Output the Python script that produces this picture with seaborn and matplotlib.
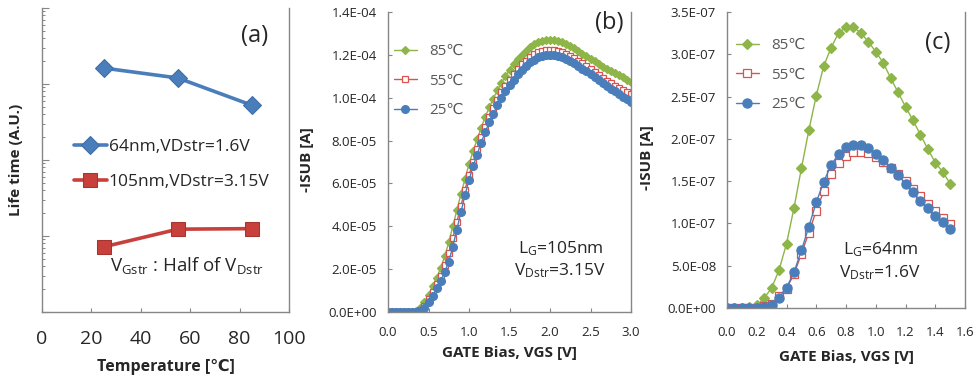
import numpy as np
import pandas as pd
import matplotlib
matplotlib.use("Agg")
import matplotlib.pyplot as plt
from matplotlib.ticker import FuncFormatter, MultipleLocator, LogLocator, NullFormatter
import seaborn as sns

# ---------------- data ----------------
# panel (a)
temp_a = [25, 55, 85]
life_64nm = [1620, 1200, 525]
life_105nm = [7.2, 12.3, 12.5]
label_a = ["64nm,VDstr=1.6V", "105nm,VDstr=3.15V"]

# panel (b)  (values in units of 1e-5 A)
vgs_b = [0.00, 0.05, 0.10, 0.15, 0.20, 0.25, 0.30, 0.35, 0.40, 0.45,
         0.50, 0.55, 0.60, 0.65, 0.70, 0.75, 0.80, 0.85, 0.90, 0.95,
         1.00, 1.05, 1.10, 1.15, 1.20, 1.25, 1.30, 1.35, 1.40, 1.45,
         1.50, 1.55, 1.60, 1.65, 1.70, 1.75, 1.80, 1.85, 1.90, 1.95,
         2.00, 2.05, 2.10, 2.15, 2.20, 2.25, 2.30, 2.35, 2.40, 2.45,
         2.50, 2.55, 2.60, 2.65, 2.70, 2.75, 2.80, 2.85, 2.90, 2.95, 3.00]
isub_b_85 = [0, 0, 0, 0, 0, 0.01, 0.02, 0.06, 0.20, 0.45,
             0.80, 1.20, 1.60, 2.05, 2.60, 3.25, 4.00, 4.75, 5.50, 6.20,
             6.90, 7.50, 8.05, 8.60, 9.10, 9.55, 9.95, 10.35, 10.70, 11.00,
             11.30, 11.55, 11.80, 12.00, 12.20, 12.35, 12.50, 12.60, 12.65, 12.70,
             12.70, 12.70, 12.65, 12.60, 12.50, 12.40, 12.30, 12.20, 12.05, 11.95,
             11.80, 11.70, 11.55, 11.45, 11.35, 11.25, 11.15, 11.05, 10.95, 10.85, 10.75]
isub_b_55 = [0, 0, 0, 0, 0, 0, 0, 0.02, 0.10, 0.30,
             0.60, 0.95, 1.30, 1.70, 2.20, 2.75, 3.45, 4.20, 4.95, 5.70,
             6.40, 7.00, 7.60, 8.15, 8.65, 9.10, 9.50, 9.90, 10.25, 10.55,
             10.85, 11.10, 11.35, 11.55, 11.72, 11.88, 12.02, 12.12, 12.18, 12.22,
             12.24, 12.22, 12.18, 12.12, 12.04, 11.95, 11.84, 11.72, 11.60, 11.46,
             11.32, 11.18, 11.05, 10.92, 10.80, 10.68, 10.56, 10.45, 10.35, 10.25, 10.15]
isub_b_25 = [0, 0, 0, 0, 0, 0, 0, 0, 0.05, 0.20,
             0.45, 0.75, 1.10, 1.45, 1.85, 2.35, 3.05, 3.85, 4.65, 5.45,
             6.15, 6.80, 7.35, 7.90, 8.40, 8.85, 9.25, 9.65, 10.00, 10.30,
             10.60, 10.85, 11.10, 11.30, 11.50, 11.65, 11.78, 11.88, 11.94, 11.98,
             12.00, 11.98, 11.94, 11.88, 11.80, 11.70, 11.60, 11.48, 11.35, 11.23,
             11.10, 10.96, 10.83, 10.70, 10.56, 10.43, 10.30, 10.16, 10.03, 9.92, 9.80]

# panel (c)  (values in units of 1e-7 A)
vgs_c = [0.00, 0.05, 0.10, 0.15, 0.20, 0.25, 0.30, 0.35, 0.40, 0.45,
         0.50, 0.55, 0.60, 0.65, 0.70, 0.75, 0.80, 0.85, 0.90, 0.95,
         1.00, 1.05, 1.10, 1.15, 1.20, 1.25, 1.30, 1.35, 1.40, 1.45, 1.50]
isub_c_85 = [0, 0, 0, 0.01, 0.03, 0.12, 0.235, 0.45, 0.76, 1.18,
             1.65, 2.10, 2.51, 2.86, 3.08, 3.25, 3.32, 3.32, 3.25, 3.15,
             3.03, 2.90, 2.72, 2.55, 2.38, 2.22, 2.05, 1.88, 1.72, 1.61, 1.47]
isub_c_55 = [0, 0, 0, 0, 0, 0.02, 0.05, 0.14, 0.23, 0.40,
             0.64, 0.89, 1.15, 1.38, 1.58, 1.72, 1.80, 1.84, 1.85, 1.83,
             1.79, 1.73, 1.66, 1.58, 1.50, 1.41, 1.32, 1.23, 1.15, 1.07, 0.99]
isub_c_25 = [0, 0, 0, 0, 0, 0.01, 0.04, 0.12, 0.24, 0.42,
             0.68, 0.96, 1.25, 1.49, 1.69, 1.82, 1.90, 1.93, 1.93, 1.89,
             1.82, 1.75, 1.65, 1.57, 1.47, 1.37, 1.27, 1.18, 1.09, 1.02, 0.94]

temp_labels = ["85\u2103", "55\u2103", "25\u2103"]
SCALE_B = 1e-5
SCALE_C = 1e-7

# ---------------- style ----------------
sns.set_theme(style="white")
plt.rcParams["font.family"] = ["Open Sans", "DejaVu Sans"]
plt.rcParams["mathtext.default"] = "regular"

W, H = 980, 377
fig = plt.figure(figsize=(W / 100, H / 100), dpi=100)

def px_axes(l, t, r, b):
    return fig.add_axes([l / W, 1 - b / H, (r - l) / W, (b - t) / H])

def ftxt(x, y, s, **kw):
    fig.text(x / W, 1 - y / H, s, **kw)

SPINE = "#868686"
C_GREEN = "#8DB548"
C_RED = "#D9534F"
C_BLUE = "#4A7EBB"

def style_axes(ax):
    for side in ["left", "bottom", "right", "top"]:
        ax.spines[side].set_color(SPINE)
        ax.spines[side].set_linewidth(1.0)
    ax.spines["top"].set_visible(False)
    ax.tick_params(direction="in", colors=SPINE, labelcolor="#262626",
                   length=3, width=0.8, top=False, right=False,
                   bottom=True, left=True)

# ---------------- panel (a) ----------------
axa = px_axes(42, 8, 289, 312)
style_axes(axa)
sns.lineplot(x=temp_a, y=life_64nm, ax=axa, color=C_BLUE, marker="D",
             markersize=9, markeredgecolor="#3C6CA6", linewidth=2.6,
             label=label_a[0], errorbar=None)
sns.lineplot(x=temp_a, y=life_105nm, ax=axa, color="#C8403C", marker="s",
             markersize=10, markeredgecolor="#A83230", linewidth=2.6,
             label=label_a[1], errorbar=None)
axa.set_yscale("log")
axa.set_ylim(1, 1e4)
axa.set_xlim(0, 100)
axa.xaxis.set_major_locator(MultipleLocator(20))
axa.yaxis.set_major_locator(LogLocator(base=10, numticks=10))
axa.yaxis.set_minor_locator(LogLocator(base=10, subs=np.arange(2, 10), numticks=10))
axa.yaxis.set_major_formatter(NullFormatter())
axa.yaxis.set_minor_formatter(NullFormatter())
axa.tick_params(axis="y", which="major", length=5, left=True)
axa.tick_params(axis="y", which="minor", length=2.5, direction="in",
                colors=SPINE, left=True, width=0.7)
axa.tick_params(axis="x", labelsize=14, pad=13)
axa.set_xlabel("Temperature [\u2103]", fontsize=11.5, fontweight="bold", labelpad=8)
axa.set_ylabel("Life time (A.U.)", fontsize=11, fontweight="bold", labelpad=10)
axa.legend(loc="upper left", bbox_to_anchor=(74 / W, 1 - 139 / H),
           bbox_transform=fig.transFigure, frameon=False, fontsize=12.5,
           handlelength=1.9, handletextpad=0.1, labelspacing=1.1,
           borderpad=0, borderaxespad=0)
ftxt(255, 36, "(a)", fontsize=17, ha="center", va="center")
ftxt(110, 265, "V$_{Gstr}$ : Half of V$_{Dstr}$", fontsize=13.5, ha="left", va="center")

# ---------------- panel (b) ----------------
def sci(v, pos):
    return f"{v:.1E}"

axb = px_axes(388, 12, 631, 312)
style_axes(axb)
series_b = [(isub_b_85, C_GREEN, "D", 4.2, C_GREEN, C_GREEN),
            (isub_b_55, C_RED, "s", 5.0, "white", C_RED),
            (isub_b_25, C_BLUE, "o", 5.6, C_BLUE, C_BLUE)]
for (vals, col, mk, ms, mfc, mec), lab in zip(series_b, temp_labels):
    sns.lineplot(x=vgs_b, y=np.array(vals) * SCALE_B, ax=axb, color=col,
                 marker=mk, markersize=ms, markerfacecolor=mfc,
                 markeredgecolor=mec, markeredgewidth=0.9, linewidth=1.0,
                 label=lab, errorbar=None)
axb.set_xlim(0, 3.0)
axb.set_ylim(0, 1.4e-4)
axb.xaxis.set_major_locator(MultipleLocator(0.5))
axb.yaxis.set_major_locator(MultipleLocator(2e-5))
axb.xaxis.set_major_formatter(FuncFormatter(lambda v, p: f"{v:.1f}"))
axb.yaxis.set_major_formatter(FuncFormatter(sci))
axb.tick_params(labelsize=9.5)
axb.tick_params(axis="x", pad=10)
axb.tick_params(axis="y", pad=8)
axb.set_xlabel("GATE Bias, VGS [V]", fontsize=11, fontweight="bold", labelpad=5)
axb.set_ylabel("-ISUB [A]", fontsize=11, fontweight="bold")
axb.yaxis.set_label_coords(314 / W, 1 - 160 / H, transform=fig.transFigure)
axb.legend(loc="upper left", bbox_to_anchor=(394 / W, 1 - 44 / H),
           bbox_transform=fig.transFigure, frameon=False, fontsize=11,
           labelcolor="#595959", handlelength=1.5, handletextpad=0.8,
           labelspacing=0.95, borderpad=0, borderaxespad=0)
ftxt(609, 23, "(b)", fontsize=17, ha="center", va="center")
ftxt(561, 249, "L$_G$=105nm", fontsize=12.5, ha="center", va="center")
ftxt(560, 271, "V$_{Dstr}$=3.15V", fontsize=12.5, ha="center", va="center")

# ---------------- panel (c) ----------------
axc = px_axes(727, 12, 965, 308)
style_axes(axc)
series_c = [(isub_c_85, C_GREEN, "D", 4.8, C_GREEN, C_GREEN),
            (isub_c_55, C_RED, "s", 6.0, "white", C_RED),
            (isub_c_25, C_BLUE, "o", 6.6, C_BLUE, C_BLUE)]
for (vals, col, mk, ms, mfc, mec), lab in zip(series_c, temp_labels):
    sns.lineplot(x=vgs_c, y=np.array(vals) * SCALE_C, ax=axc, color=col,
                 marker=mk, markersize=ms, markerfacecolor=mfc,
                 markeredgecolor=mec, markeredgewidth=0.9, linewidth=1.0,
                 label=lab, errorbar=None)
axc.set_xlim(0, 1.6)
axc.set_ylim(0, 3.5e-7)
axc.xaxis.set_major_locator(MultipleLocator(0.2))
axc.yaxis.set_major_locator(MultipleLocator(5e-8))
axc.xaxis.set_major_formatter(FuncFormatter(lambda v, p: f"{v:.1f}"))
axc.yaxis.set_major_formatter(FuncFormatter(sci))
axc.tick_params(labelsize=9.5)
axc.tick_params(axis="x", pad=13)
axc.tick_params(axis="y", pad=8)
axc.set_xlabel("GATE Bias, VGS [V]", fontsize=11, fontweight="bold", labelpad=8)
axc.set_ylabel("-ISUB [A]", fontsize=11, fontweight="bold")
axc.yaxis.set_label_coords(654 / W, 1 - 158 / H, transform=fig.transFigure)
axc.legend(loc="upper left", bbox_to_anchor=(736 / W, 1 - 38 / H),
           bbox_transform=fig.transFigure, frameon=False, fontsize=11,
           labelcolor="#595959", handlelength=1.5, handletextpad=0.8,
           labelspacing=0.95, borderpad=0, borderaxespad=0)
ftxt(938, 43, "(c)", fontsize=17, ha="center", va="center")
ftxt(881, 250, "L$_G$=64nm", fontsize=12.5, ha="center", va="center")
ftxt(880, 273, "V$_{Dstr}$=1.6V", fontsize=12.5, ha="center", va="center")

fig.savefig("out.png", dpi=100, facecolor="white")
